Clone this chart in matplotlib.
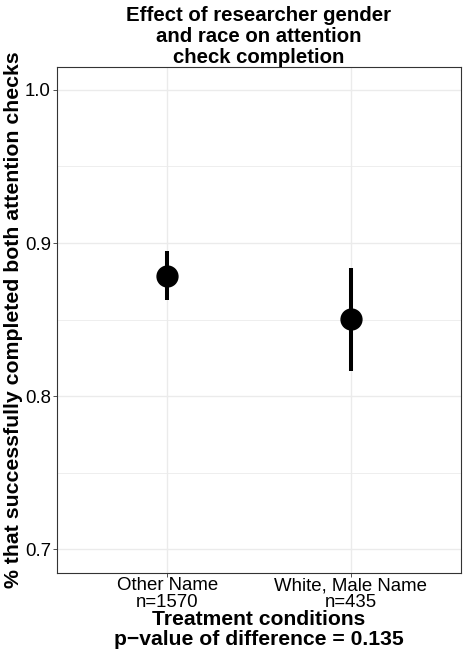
import matplotlib
matplotlib.use('Agg')
import matplotlib.pyplot as plt
from matplotlib.ticker import MultipleLocator

conditions = ['Other Name', 'White, Male Name']
counts = [1570, 435]
means = [0.8786, 0.8502]
ci_low = [0.8627, 0.8166]
ci_high = [0.8950, 0.8840]
p_value = 0.135

plt.rcParams['font.family'] = ['Liberation Sans', 'DejaVu Sans']

fig = plt.figure(figsize=(4.63, 6.55), dpi=100)
ax = fig.add_axes([57 / 463, 1 - 573 / 655, 404 / 463, 506 / 655])

xs = list(range(1, len(conditions) + 1))
for x, lo, hi in zip(xs, ci_low, ci_high):
    ax.plot([x, x], [lo, hi], color='black', linewidth=2.9, solid_capstyle='butt', zorder=3)
ax.plot(xs, means, 'o', color='black', markersize=15, zorder=4)

ax.set_xlim(0.4, 2.6)
ax.set_ylim(0.6844, 1.015)
ax.set_xticks(xs)
ax.set_xticklabels([f'{c}\nn={n}' for c, n in zip(conditions, counts)],
                   fontsize=13.4, linespacing=1.0)
ax.yaxis.set_minor_locator(MultipleLocator(0.05))
ax.set_yticks([0.7, 0.8, 0.9, 1.0])
ax.set_yticklabels(['0.7', '0.8', '0.9', '1.0'], fontsize=13.4)
ax.tick_params(axis='both', which='major', length=3, width=0.6, color='#333333', pad=1.5)
ax.tick_params(axis='x', which='major', pad=0)
ax.tick_params(axis='y', which='minor', length=0)

ax.grid(True, which='major', color='#EBEBEB', linewidth=1.0, zorder=0)
ax.grid(True, which='minor', axis='y', color='#EBEBEB', linewidth=0.6, zorder=0)
ax.set_axisbelow(True)
for s in ax.spines.values():
    s.set_color('#333333')
    s.set_linewidth(0.8)

ax.set_xlabel(f'Treatment conditions\np\u2212value of difference = {p_value}',
              fontsize=15.2, fontweight='bold', labelpad=-1, linespacing=1.05)
ax.set_ylabel('% that successfully completed both attention checks',
              fontsize=15.3, fontweight='bold')
ax.yaxis.set_label_coords(-0.084, 0.5)
ax.set_title('Effect of researcher gender\nand race on attention\ncheck completion',
             fontsize=14.7, fontweight='bold', linespacing=1.12, pad=3)

fig.savefig('out.png', dpi=100)
